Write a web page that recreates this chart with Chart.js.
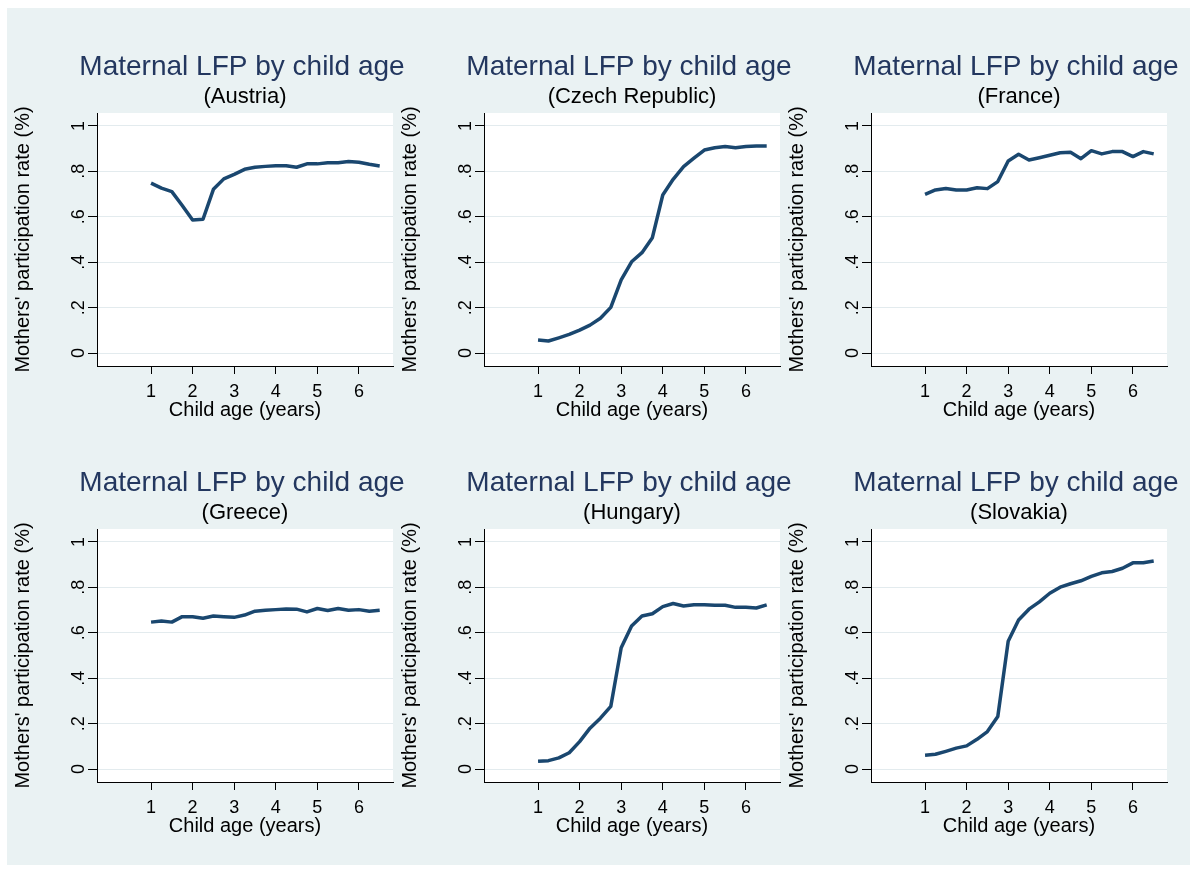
<!DOCTYPE html>
<html><head><meta charset="utf-8">
<script src="https://cdn.jsdelivr.net/npm/chart.js@4.4.0/dist/chart.umd.min.js"></script>
<style>
html,body{margin:0;padding:0;background:#fff;width:1196px;height:872px;overflow:hidden;}
#bg{position:absolute;left:7px;top:8px;width:1183px;height:857px;background:#eaf2f3;}
canvas{position:absolute;}
</style></head><body>
<div id="bg"></div>
<script>
// ---- data ----
const ages = [1,1.25,1.5,1.75,2,2.25,2.5,2.75,3,3.25,3.5,3.75,4,4.25,4.5,4.75,5,5.25,5.5,5.75,6,6.25,6.5];
const austria  = [0.748,0.726,0.711,0.650,0.586,0.589,0.721,0.767,0.787,0.809,0.818,0.822,0.825,0.825,0.818,0.833,0.833,0.838,0.838,0.843,0.840,0.831,0.824];
const czech    = [0.057,0.053,0.067,0.082,0.101,0.123,0.153,0.201,0.322,0.402,0.442,0.508,0.696,0.765,0.821,0.858,0.894,0.904,0.909,0.904,0.909,0.912,0.912];
const france   = [0.699,0.718,0.725,0.718,0.718,0.728,0.724,0.755,0.846,0.875,0.850,0.860,0.871,0.882,0.884,0.856,0.891,0.877,0.887,0.887,0.865,0.887,0.877];
const greece   = [0.647,0.652,0.647,0.671,0.671,0.664,0.674,0.671,0.668,0.678,0.695,0.699,0.702,0.705,0.704,0.692,0.707,0.698,0.707,0.699,0.702,0.695,0.699];
const hungary  = [0.034,0.037,0.049,0.072,0.121,0.180,0.224,0.276,0.534,0.630,0.674,0.684,0.715,0.729,0.718,0.723,0.723,0.721,0.721,0.712,0.712,0.709,0.723];
const slovakia = [0.061,0.065,0.078,0.092,0.102,0.131,0.165,0.231,0.563,0.656,0.704,0.736,0.774,0.801,0.816,0.829,0.848,0.864,0.870,0.884,0.908,0.908,0.916];
const countries = ['Austria','Czech Republic','France','Greece','Hungary','Slovakia'];
const seriesList = [austria, czech, france, greece, hungary, slovakia];
const xTicks = [1,2,3,4,5,6];
const xTickLabels = ['1','2','3','4','5','6'];
const yTicks = [0,0.2,0.4,0.6,0.8,1];
const yTickLabels = ['0','.2','.4','.6','.8','1'];
const mainTitle = 'Maternal LFP by child age';
const xTitle = 'Child age (years)';
const yTitle = "Mothers' participation rate (%)";

// ---- drawing ----
const FONT = '"Liberation Sans", Arial, sans-serif';
const panelText = {
  id: 'panelText',
  beforeDraw(chart) {
    const {ctx, chartArea: a} = chart;
    ctx.save();
    ctx.fillStyle = '#ffffff';
    ctx.fillRect(a.left, a.top, a.right - a.left, a.bottom - a.top);
    ctx.restore();
  },
  afterDraw(chart) {
    const o = chart.options.plugins.panelText;
    const {ctx, chartArea: a} = chart;
    const cx = (a.left + a.right) / 2;
    ctx.save();
    ctx.textAlign = 'center';
    ctx.textBaseline = 'alphabetic';
    ctx.fillStyle = '#23375f';
    ctx.font = '28px ' + FONT;
    ctx.fillText(mainTitle, cx - 3, 67);
    ctx.fillStyle = '#000';
    ctx.font = '22px ' + FONT;
    ctx.fillText('(' + o.country + ')', cx, 95);
    ctx.font = '20px ' + FONT;
    ctx.fillText(xTitle, cx, 408);
    ctx.save();
    ctx.translate(22, (a.top + a.bottom) / 2);
    ctx.rotate(-Math.PI / 2);
    ctx.fillText(yTitle, 0, 0);
    ctx.restore();
    const ys = chart.scales.y;
    ctx.font = '18px ' + FONT;
    yTicks.forEach((v, i) => {
      const py = ys.getPixelForValue(v);
      ctx.save();
      ctx.translate(77, py);
      ctx.rotate(-Math.PI / 2);
      ctx.fillText(yTickLabels[i], 0, 0);
      ctx.restore();
    });
    ctx.restore();
  }
};

countries.forEach((country, i) => {
  const col = i % 3, row = Math.floor(i / 3);
  const cv = document.createElement('canvas');
  cv.width = 400; cv.height = 416;
  cv.style.left = (7 + 387 * col) + 'px';
  cv.style.top = (8 + 416 * row) + 'px';
  cv.style.width = '400px'; cv.style.height = '416px';
  document.body.appendChild(cv);
  const vals = seriesList[i];
  new Chart(cv, {
    type: 'line',
    data: {
      datasets: [{
        data: ages.map((a, k) => ({x: a, y: vals[k]})),
        borderColor: '#1a476f',
        borderWidth: 3.5,
        borderJoinStyle: 'round',
        pointRadius: 0,
        tension: 0,
        fill: false
      }]
    },
    plugins: [panelText],
    options: {
      responsive: false,
      animation: false,
      devicePixelRatio: 1,
      layout: {padding: {left: 81, right: 14, top: 105, bottom: 18}},
      plugins: {
        legend: {display: false},
        tooltip: {enabled: false},
        title: {display: false},
        panelText: {country: country}
      },
      scales: {
        x: {
          type: 'linear', min: -0.3, max: 6.82,
          afterBuildTicks: s => { s.ticks = xTicks.map(v => ({value: v})); },
          afterFit: s => { s.height = 40; },
          grid: {drawOnChartArea: false, drawTicks: true, tickLength: 8, tickColor: '#000', tickWidth: 1},
          border: {display: true, color: '#000', width: 1},
          ticks: {font: {family: FONT, size: 18}, color: '#000', padding: 7, maxRotation: 0, minRotation: 0, autoSkip: false,
                  callback: (v, k) => xTickLabels[k]}
        },
        y: {
          type: 'linear', min: -0.057, max: 1.057,
          afterBuildTicks: s => { s.ticks = yTicks.map(v => ({value: v})); },
          afterFit: s => { s.width = 9; },
          grid: {color: '#e3ebee', lineWidth: 1, drawTicks: true, tickLength: 9, tickColor: '#000', tickWidth: 1},
          border: {display: true, color: '#000', width: 1},
          ticks: {display: false}
        }
      }
    }
  });
});
</script>
</body></html>
